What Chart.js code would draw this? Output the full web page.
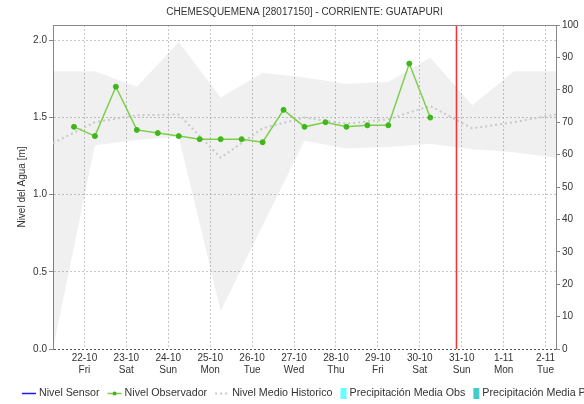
<!DOCTYPE html>
<html lang="es">
<head>
<meta charset="UTF-8">
<title>Nivel del Agua - Chemesquemena</title>
<script src="https://cdn.jsdelivr.net/npm/chart.js@4.4.0/dist/chart.umd.min.js"></script>
<style>
    html, body { margin: 0; padding: 0; background: #fff; }
    canvas { display: block; }
</style>
</head>
<body>
<canvas id="nivelChart" width="584" height="404"></canvas>
<script>
const titulo = 'CHEMESQUEMENA [28017150] - CORRIENTE: GUATAPURI';

// ejes
const diasFecha = ['22-10', '23-10', '24-10', '25-10', '26-10', '27-10', '28-10', '29-10', '30-10', '31-10', '1-11', '2-11'];
const diasSemana = ['Fri', 'Sat', 'Sun', 'Mon', 'Tue', 'Wed', 'Thu', 'Fri', 'Sat', 'Sun', 'Mon', 'Tue'];
const ticksNivel = [0, 0.5, 1.0, 1.5, 2.0];
const ticksPrecip = [0, 10, 20, 30, 40, 50, 60, 70, 80, 90, 100];
const origen = '2021-10-22T00:00';
const inicio = '2021-10-21T06:00';
const fin = '2021-11-02T06:00';
const ahora = '2021-10-30T21:00';

// lecturas del observador (06h y 18h)
const obsHoras = [
    '2021-10-21T18:00', '2021-10-22T06:00', '2021-10-22T18:00', '2021-10-23T06:00',
    '2021-10-23T18:00', '2021-10-24T06:00', '2021-10-24T18:00', '2021-10-25T06:00',
    '2021-10-25T18:00', '2021-10-26T06:00', '2021-10-26T18:00', '2021-10-27T06:00',
    '2021-10-27T18:00', '2021-10-28T06:00', '2021-10-28T18:00', '2021-10-29T06:00',
    '2021-10-29T18:00', '2021-10-30T06:00'
];
const obsNivel = [1.44, 1.38, 1.70, 1.42, 1.40, 1.38, 1.36, 1.36, 1.36, 1.34, 1.55, 1.44, 1.47, 1.44, 1.45, 1.45, 1.85, 1.50];

// historico diario: maximo, minimo y medio
const histHoras = [
    '2021-10-21T06:00', '2021-10-22T06:00', '2021-10-23T06:00', '2021-10-24T06:00',
    '2021-10-25T06:00', '2021-10-26T06:00', '2021-10-27T06:00', '2021-10-28T06:00',
    '2021-10-29T06:00', '2021-10-30T06:00', '2021-10-31T06:00', '2021-11-01T06:00',
    '2021-11-02T06:00'
];
const histMax = [1.80, 1.80, 1.70, 1.99, 1.63, 1.79, 1.76, 1.72, 1.73, 1.89, 1.58, 1.80, 1.80];
const histMin = [0.00, 1.32, 1.355, 1.375, 0.245, 0.80, 1.35, 1.30, 1.31, 1.33, 1.295, 1.275, 1.24];
const histMedio = [1.335, 1.47, 1.515, 1.52, 1.24, 1.43, 1.50, 1.46, 1.49, 1.575, 1.43, 1.47, 1.52];

// horas -> dias desde el origen
const dia = s => (Date.parse(s + 'Z') - Date.parse(origen + 'Z')) / 864e5;
const serie = (horas, valores) => valores.map((v, i) => ({ x: dia(horas[i]), y: v }));

const marcoSuperior = {
    id: 'marcoSuperior',
    afterDraw(chart) {
        const { ctx, chartArea: a } = chart;
        ctx.save();
        ctx.strokeStyle = '#888';
        ctx.lineWidth = 1;
        ctx.beginPath();
        ctx.moveTo(a.left, a.top + 0.5);
        ctx.lineTo(a.right, a.top + 0.5);
        ctx.stroke();
        ctx.restore();
    }
};

// leyenda en una sola fila (se corta en el borde derecho)
const leyendaInferior = {
    id: 'leyendaInferior',
    afterDraw(chart, args, opts) {
        const ctx = chart.ctx;
        let x = opts.x;
        const y = opts.y;
        ctx.save();
        ctx.font = opts.font;
        ctx.textBaseline = 'middle';
        chart.data.datasets.forEach(ds => {
            if (!ds.label) return;
            if (ds.type === 'bar') {
                ctx.fillStyle = ds.backgroundColor;
                ctx.fillRect(x, y - 5, 6, 11);
                x += 9;
            } else {
                ctx.strokeStyle = ds.borderColor;
                ctx.lineWidth = ds.borderWidth;
                ctx.setLineDash(ds.borderDash || []);
                ctx.beginPath();
                ctx.moveTo(x, y + 0.5);
                ctx.lineTo(x + 14, y + 0.5);
                ctx.stroke();
                ctx.setLineDash([]);
                if (ds.pointRadius > 0) {
                    ctx.fillStyle = ds.pointBackgroundColor;
                    ctx.beginPath();
                    ctx.arc(x + 7, y + 0.5, 2, 0, Math.PI * 2);
                    ctx.fill();
                }
                x += 17;
            }
            ctx.fillStyle = opts.color;
            ctx.fillText(ds.label, x, y);
            x += ctx.measureText(ds.label).width + opts.gap;
        });
        ctx.restore();
    }
};

Chart.defaults.font.family = '"Liberation Sans", Arial, sans-serif';
Chart.defaults.font.size = 10;
Chart.defaults.color = '#333';

const ctx = document.getElementById('nivelChart').getContext('2d');
new Chart(ctx, {
    type: 'line',
    data: {
        datasets: [
            {
                label: 'Nivel Sensor',
                data: [],
                borderColor: '#1a1aff',
                borderWidth: 1.5,
                pointRadius: 0,
                order: 1
            },
            {
                label: 'Nivel Observador',
                data: serie(obsHoras, obsNivel),
                borderColor: '#7bcf4a',
                borderWidth: 1.5,
                pointRadius: 2.5,
                pointBackgroundColor: '#3fb719',
                pointBorderColor: '#3fb719',
                pointBorderWidth: 1,
                order: 1
            },
            {
                label: 'Nivel Medio Historico',
                data: serie(histHoras, histMedio),
                borderColor: '#c8c8c8',
                borderWidth: 2,
                borderDash: [2, 3],
                pointRadius: 0,
                order: 2
            },
            {
                type: 'bar',
                label: 'Precipitación Media Obs',
                data: [],
                yAxisID: 'y1',
                backgroundColor: '#66ffff',
                order: 5
            },
            {
                type: 'bar',
                label: 'Precipitación Media Pronosticada',
                data: [],
                yAxisID: 'y1',
                backgroundColor: '#44cccc',
                order: 5
            },
            {
                label: '',
                data: serie(histHoras, histMax),
                borderWidth: 0,
                pointRadius: 0,
                fill: '+1',
                backgroundColor: 'rgba(0, 0, 0, 0.06)',
                order: 3
            },
            {
                label: '',
                data: serie(histHoras, histMin),
                borderWidth: 0,
                pointRadius: 0,
                order: 4
            },
            {
                // linea de la hora actual
                label: '',
                data: [{ x: dia(ahora), y: 0 }, { x: dia(ahora), y: 2.1 }],
                borderColor: '#ff3030',
                borderWidth: 1.5,
                pointRadius: 0,
                order: 0
            }
        ]
    },
    options: {
        responsive: false,
        animation: false,
        layout: { padding: { left: 16, right: 0, top: 0, bottom: 25 } },
        plugins: {
            legend: { display: false },
            tooltip: { enabled: false },
            title: {
                display: true,
                fullSize: false,
                text: titulo,
                color: '#333',
                font: { size: 10, weight: 'normal' },
                padding: { top: 6, bottom: 7 }
            },
            leyendaInferior: {
                x: 22,
                y: 393,
                gap: 8,
                font: '10.7px "Liberation Sans", Arial, sans-serif',
                color: '#333'
            }
        },
        scales: {
            x: {
                type: 'linear',
                offset: false,
                min: dia(inicio),
                max: dia(fin),
                afterBuildTicks: axis => { axis.ticks = diasFecha.map((d, i) => ({ value: i })); },
                afterFit: axis => { axis.height = 30; },
                ticks: {
                    autoSkip: false,
                    maxRotation: 0,
                    padding: 3,
                    callback: v => [diasFecha[v], diasSemana[v]]
                },
                grid: { color: '#c8c8c8', drawTicks: false, offset: false },
                border: { display: false, dash: [2, 2] }
            },
            y: {
                position: 'left',
                min: 0,
                max: 2.1,
                bounds: 'data',
                afterBuildTicks: axis => { axis.ticks = ticksNivel.map(v => ({ value: v })); },
                afterFit: axis => { axis.width = 37; },
                ticks: { padding: 2, callback: v => v.toFixed(1) },
                grid: {
                    color: c => (c.tick && c.tick.value === 0 ? '#555' : '#c8c8c8'),
                    tickColor: '#888',
                    tickLength: 4,
                    tickBorderDash: []
                },
                border: { color: '#888', dash: [2, 2] },
                title: {
                    display: true,
                    text: 'Nivel del Agua [m]',
                    padding: 0,
                    font: { size: 10 }
                }
            },
            y1: {
                position: 'right',
                min: 0,
                max: 100,
                afterBuildTicks: axis => { axis.ticks = ticksPrecip.map(v => ({ value: v })); },
                afterFit: axis => { axis.width = 28; },
                ticks: { padding: 2 },
                grid: { drawOnChartArea: false, tickColor: '#888', tickLength: 4 },
                border: { color: '#888' }
            }
        }
    },
    plugins: [marcoSuperior, leyendaInferior]
});
</script>
</body>
</html>
